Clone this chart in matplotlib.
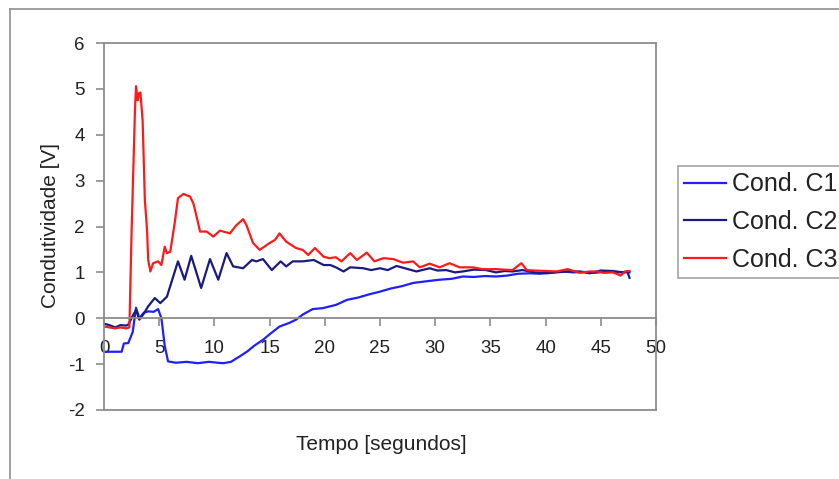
import matplotlib
matplotlib.use("Agg")
import matplotlib.pyplot as plt
from matplotlib.lines import Line2D

plt.rcParams['font.family'] = ['Liberation Sans', 'DejaVu Sans']
plt.rcParams['axes.unicode_minus'] = False

# Cond. C1
t_c1 = [0, 1.6, 1.8, 2.2, 2.6, 2.9, 3.2, 3.6, 4.0, 4.5, 4.9, 5.2, 5.5, 5.8, 6.5, 7.5,
        8.5, 9.5, 10.3, 10.8, 11.5, 12.3, 13.0, 13.6, 14.4, 15.0, 15.9, 16.8, 17.4,
        18.0, 18.9, 19.8, 21.0, 22.0, 23.0, 24.0, 25.0, 26.0, 27.0, 28.0, 29.0, 30.4,
        31.5, 32.5, 33.5, 34.5, 35.5, 36.5, 37.5, 38.6, 39.5, 40.5, 41.6, 42.5, 43.5,
        44.5, 45.5, 46.5, 47.6]
v_c1 = [-0.73, -0.73, -0.55, -0.54, -0.3, 0.23, 0.0, 0.12, 0.15, 0.14, 0.2, 0.0,
        -0.6, -0.94, -0.97, -0.95, -0.98, -0.95, -0.97, -0.98, -0.95, -0.83, -0.72,
        -0.6, -0.47, -0.35, -0.18, -0.1, -0.03, 0.08, 0.2, 0.22, 0.29, 0.4, 0.45,
        0.52, 0.58, 0.65, 0.7, 0.77, 0.8, 0.84, 0.86, 0.91, 0.9, 0.92, 0.91, 0.93,
        0.97, 0.98, 0.97, 1.0, 1.02, 1.0, 1.01, 0.99, 1.02, 1.0, 1.0]

# Cond. C2
t_c2 = [0, 0.5, 1.0, 1.5, 2.0, 2.2, 2.6, 2.9, 3.2, 3.6, 4.0, 4.6, 5.1, 5.7, 6.7,
        7.3, 7.9, 8.3, 8.8, 9.6, 10.35, 11.1, 11.7, 12.6, 13.4, 13.8, 14.4, 15.2,
        16.0, 16.5, 17.1, 18.0, 19.0, 19.9, 20.5, 21.0, 21.7, 22.3, 23.5, 24.2, 25.0,
        25.7, 26.5, 27.4, 28.3, 29.5, 30.2, 31.0, 31.8, 32.5, 33.5, 34.6, 35.5, 36.3,
        37.0, 37.9, 39.0, 40.1, 41.0, 42.0, 43.1, 44.0, 45.0, 46.1, 47.0, 47.4, 47.6]
v_c2 = [-0.12, -0.15, -0.2, -0.15, -0.16, -0.14, 0.05, 0.18, -0.03, 0.1, 0.26, 0.44,
        0.33, 0.47, 1.24, 0.84, 1.36, 1.05, 0.66, 1.29, 0.84, 1.42, 1.13, 1.09, 1.27,
        1.24, 1.29, 1.05, 1.24, 1.13, 1.24, 1.24, 1.27, 1.16, 1.16, 1.11, 1.02, 1.11,
        1.09, 1.05, 1.09, 1.05, 1.14, 1.08, 1.02, 1.09, 1.04, 1.05, 1.0, 1.02, 1.06,
        1.05, 1.0, 1.03, 1.02, 1.05, 1.0, 0.98, 1.0, 1.02, 1.02, 0.98, 1.04, 1.03,
        1.0, 1.02, 0.88]

# Cond. C3
t_c3 = [0, 0.5, 1.0, 1.5, 2.0, 2.3, 2.5, 2.8, 2.9, 3.05, 3.15, 3.3, 3.5, 3.7, 3.9,
        4.0, 4.2, 4.45, 4.9, 5.2, 5.5, 5.7, 6.0, 6.4, 6.7, 7.2, 7.8, 8.1, 8.4, 8.7,
        9.3, 9.9, 10.5, 11.4, 12.0, 12.6, 12.9, 13.5, 14.1, 15.0, 15.5, 15.9, 16.5,
        17.4, 18.0, 18.5, 19.1, 19.9, 20.4, 21.0, 21.5, 22.3, 22.9, 23.8, 24.5, 25.3,
        26.2, 27.1, 28.0, 28.6, 29.5, 30.4, 31.3, 32.2, 33.4, 34.3, 35.5, 37.0, 37.8,
        38.3, 39.0, 40.1, 41.0, 42.0, 43.1, 44.0, 44.6, 45.3, 46.1, 46.8, 47.2, 47.6]
v_c3 = [-0.18, -0.2, -0.22, -0.2, -0.22, -0.2, 1.9, 4.5, 5.06, 4.75, 4.9, 4.92, 4.3,
        2.58, 1.92, 1.27, 1.02, 1.2, 1.24, 1.16, 1.56, 1.42, 1.45, 2.07, 2.62, 2.71,
        2.65, 2.5, 2.2, 1.89, 1.89, 1.78, 1.91, 1.85, 2.03, 2.16, 2.03, 1.64, 1.49,
        1.64, 1.71, 1.85, 1.67, 1.53, 1.49, 1.38, 1.53, 1.34, 1.31, 1.33, 1.24, 1.42,
        1.27, 1.43, 1.24, 1.31, 1.29, 1.21, 1.24, 1.11, 1.19, 1.11, 1.2, 1.11, 1.11,
        1.07, 1.07, 1.05, 1.2, 1.05, 1.04, 1.03, 1.02, 1.07, 0.99, 1.02, 1.02, 0.99,
        1.0, 0.93, 1.02, 1.03]

labels = ["Cond. C1", "Cond. C2", "Cond. C3"]
x_ticks = list(range(0, 51, 5))
y_ticks = list(range(-2, 7))

W, H = 839, 479
fig = plt.figure(figsize=(W / 100, H / 100), dpi=100)
ax = fig.add_axes([104 / W, 1 - 410 / H, 552 / W, 367 / H])

gray = "#8c8c8c"
ax.plot(t_c1, v_c1, color="#1f1fff", lw=1.6, label=labels[0])
ax.plot(t_c2, v_c2, color="#1a1a80", lw=1.6, label=labels[1])
ax.plot(t_c3, v_c3, color="#ff1a1a", lw=1.6, label=labels[2])

ax.set_xlim(0, 50)
ax.set_ylim(-2, 6)
ax.set_xticks(x_ticks)
ax.set_yticks(y_ticks)

# x axis drawn through zero, box closed at the bottom with a plain line
ax.spines['bottom'].set_position(('data', 0))
for s in ax.spines.values():
    s.set_color(gray)
    s.set_linewidth(1.3)
ax.plot([0, 1], [0, 0], transform=ax.transAxes, color=gray, lw=1.3, clip_on=False)

ax.tick_params(axis='y', direction='out', length=6, width=1.2, color=gray,
               labelsize=13.5, pad=8, labelcolor="#222222")
ax.tick_params(axis='x', direction='out', length=6, width=1.2, color=gray,
               labelsize=13.5, pad=10, labelcolor="#222222")

fig.text(51 / W, 1 - 226 / H, "Condutividade [V]", rotation=90, ha='center', va='center',
         fontsize=15, color="#222222")
fig.text(381 / W, 1 - 444 / H, "Tempo [segundos]", ha='center', va='center',
         fontsize=15, color="#222222")

leg = fig.legend(loc='upper left', bbox_to_anchor=(678 / W, 1 - 166 / H),
                 borderaxespad=0, fontsize=18, frameon=True, fancybox=False,
                 handlelength=1.65, handletextpad=0.25, labelspacing=0.55,
                 borderpad=0.25)
leg.get_frame().set_edgecolor(gray)
leg.get_frame().set_linewidth(1.2)
for txt in leg.get_texts():
    txt.set_color("#222222")

# outer chart border
fig.add_artist(Line2D([10 / W, 1], [1 - 9 / H, 1 - 9 / H], color="#999999", lw=1.3))
fig.add_artist(Line2D([10 / W, 10 / W], [0, 1 - 9 / H], color="#999999", lw=1.3))

fig.savefig("out.png", dpi=100)
